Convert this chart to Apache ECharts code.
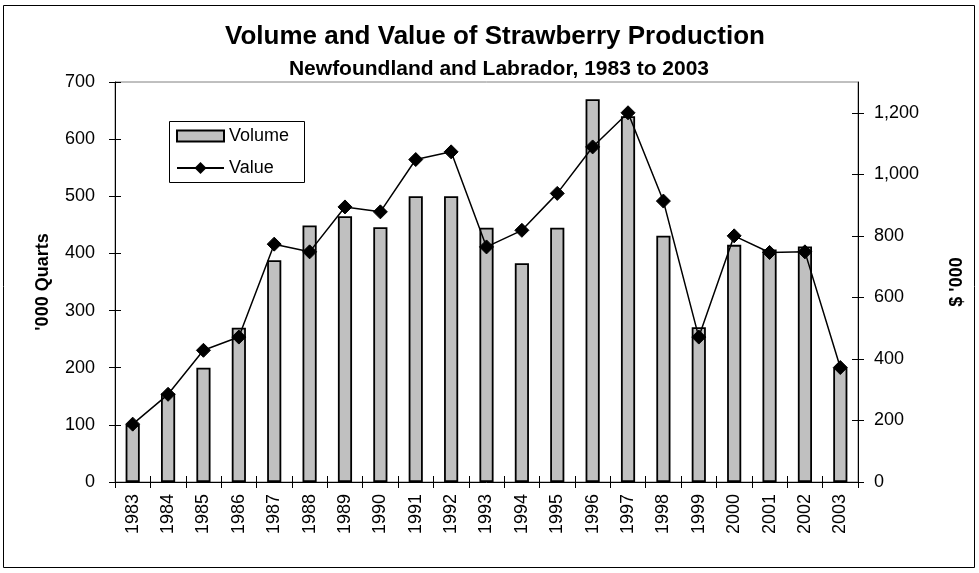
<!DOCTYPE html>
<html>
<head>
<meta charset="utf-8">
<script src="https://cdn.jsdelivr.net/npm/echarts@6/dist/echarts.min.js"></script>
<style>
html,body{margin:0;padding:0;background:#fff;}
#chart{width:979px;height:573px;}
</style>
</head>
<body>
<div id="chart"></div>
<script>
var years = ['1983','1984','1985','1986','1987','1988','1989','1990','1991','1992','1993','1994','1995','1996','1997','1998','1999','2000','2001','2002','2003'];
var volume = [100,155,200,270,388,449,465,446,500,500,445,383,445,670,640,431,271,415,407,412,200];
var value = [188,285,428,471,773,748,894,878,1048,1073,764,818,938,1089,1200,913,471,800,746,748,372];
var leftTicks = [0,100,200,300,400,500,600,700];
var rightTicks = [0,200,400,600,800,1000,1200];

var FONT = "'Liberation Sans', Arial, sans-serif";
var chart = echarts.init(document.getElementById('chart'), null, {renderer:'canvas'});

var axisLineStyle = {show:true, lineStyle:{color:'#000', width:1}};
var legendText = {fontSize:18, color:'#000', fontFamily:FONT};
var option = {
  animation:false,
  backgroundColor:'#fff',
  textStyle:{fontFamily:FONT},
  grid:{left:115, right:121, top:82, bottom:91, show:true, borderColor:'#808080', borderWidth:1, backgroundColor:'transparent'},
  graphic:[
    {type:'rect', shape:{x:3.5, y:5.5, width:971, height:562}, style:{fill:'none', stroke:'#000', lineWidth:1}, z:-1},
    {type:'rect', shape:{x:169.5, y:121.5, width:135, height:61}, style:{fill:'#fff', stroke:'#000', lineWidth:1}, z:3},
    {type:'text', x:495, y:37, style:{text:'Volume and Value of Strawberry Production', font:'bold 26px '+FONT, fill:'#000', textAlign:'center', textVerticalAlign:'middle'}},
    {type:'text', x:499, y:69, style:{text:'Newfoundland and Labrador, 1983 to 2003', font:'bold 21px '+FONT, fill:'#000', textAlign:'center', textVerticalAlign:'middle'}}
  ],
  legend:[
    {left:176, top:127, padding:0, itemWidth:47, itemHeight:11, itemGap:0,
     textStyle:legendText, data:[{name:'Volume', icon:'rect'}], z:10},
    {left:176, top:159, padding:0, itemWidth:47, itemHeight:15, itemGap:0,
     textStyle:legendText, data:['Value'], z:10}
  ],
  xAxis:[
    {type:'category', data:years, position:'bottom',
     axisLine:axisLineStyle,
     axisTick:{show:true, length:6, lineStyle:{color:'#000'}},
     axisLabel:{rotate:90, fontSize:18, color:'#000', margin:12, fontFamily:FONT},
     splitLine:{show:false}},
    {type:'category', data:years, position:'bottom',
     axisLine:{show:false},
     axisTick:{show:true, inside:true, length:6, lineStyle:{color:'#000'}},
     axisLabel:{show:false}, splitLine:{show:false}}
  ],
  yAxis:[
    {type:'value', min:0, max:700, interval:100, position:'left',
     name:"'000 Quarts", nameLocation:'middle', nameGap:63, nameRotate:90,
     nameTextStyle:{fontSize:18, fontWeight:'bold', color:'#000', fontFamily:FONT},
     axisLine:axisLineStyle,
     axisTick:{show:true, length:6, lineStyle:{color:'#000'}},
     axisLabel:{fontSize:18, color:'#000', margin:20, fontFamily:FONT},
     splitLine:{show:false}},
    {type:'value', min:0, max:1300, position:'right',
     name:"$ '000", nameLocation:'middle', nameGap:90, nameRotate:90,
     nameTextStyle:{fontSize:18, fontWeight:'bold', color:'#000', fontFamily:FONT},
     axisLine:axisLineStyle,
     axisTick:{show:true, length:6, lineStyle:{color:'#000'}, customValues:rightTicks},
     axisLabel:{fontSize:18, color:'#000', margin:16, fontFamily:FONT, customValues:rightTicks,
       formatter:function(v){return Number(v).toLocaleString('en-US');}},
     splitLine:{show:false}},
    {type:'value', min:0, max:700, interval:100, position:'left',
     axisLine:{show:false},
     axisTick:{show:true, inside:true, length:6, lineStyle:{color:'#000'}},
     axisLabel:{show:false}, splitLine:{show:false}},
    {type:'value', min:0, max:1300, position:'right',
     axisLine:{show:false},
     axisTick:{show:true, inside:true, length:6, lineStyle:{color:'#000'}, customValues:rightTicks},
     axisLabel:{show:false}, splitLine:{show:false}}
  ],
  series:[
    {name:'Volume', type:'bar', xAxisIndex:0, yAxisIndex:0, data:volume, barWidth:'40%',
     itemStyle:{color:'#c0c0c0', borderColor:'#000', borderWidth:1.8}},
    {name:'Value', type:'line', xAxisIndex:0, yAxisIndex:1, data:value,
     symbol:'diamond', symbolSize:14, showSymbol:true,
     lineStyle:{color:'#000', width:1.5},
     itemStyle:{color:'#000', borderColor:'#000'}, z:5}
  ]
};
chart.setOption(option);
</script>
</body>
</html>
